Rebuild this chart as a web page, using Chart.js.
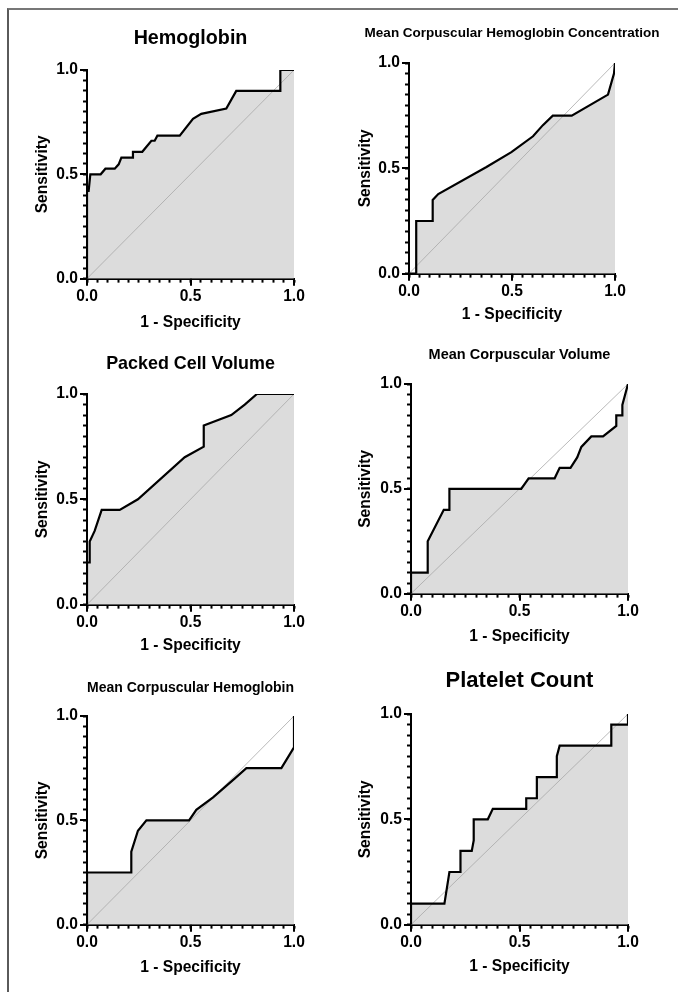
<!DOCTYPE html>
<html>
<head>
<meta charset="utf-8">
<script src="https://cdn.jsdelivr.net/npm/chart.js@4.4.0/dist/chart.umd.min.js"></script>
<style>
html,body{margin:0;padding:0;background:#fff;}
body{width:678px;height:992px;position:relative;overflow:hidden;}
#frame{position:absolute;left:7px;top:8px;width:700px;height:1000px;border-left:2px solid #5a5a5a;border-top:2px solid #777;}
canvas{position:absolute;}
</style>
</head>
<body>
<div id="frame"></div>
<script>
// ---- data (1 - specificity, sensitivity) ----
const hgbX = [0, 0, 0.008, 0.016, 0.066, 0.089, 0.134, 0.153, 0.166, 0.222, 0.222, 0.267, 0.311, 0.327, 0.34, 0.448, 0.512, 0.552, 0.673, 0.721, 0.934, 0.934, 1];
const hgbY = [0, 0.42, 0.42, 0.5, 0.5, 0.527, 0.527, 0.548, 0.58, 0.58, 0.608, 0.608, 0.661, 0.661, 0.685, 0.685, 0.766, 0.79, 0.815, 0.9, 0.9, 1, 1];

const mchcX = [0, 0.035, 0.035, 0.115, 0.115, 0.142, 0.376, 0.497, 0.602, 0.65, 0.698, 0.79, 0.966, 0.995, 1];
const mchcY = [0, 0, 0.25, 0.25, 0.35, 0.378, 0.506, 0.577, 0.652, 0.705, 0.75, 0.75, 0.85, 0.95, 1];

const pcvX = [0, 0, 0.013, 0.013, 0.037, 0.071, 0.158, 0.246, 0.472, 0.564, 0.564, 0.697, 0.762, 0.821, 1];
const pcvY = [0, 0.2, 0.2, 0.3, 0.35, 0.45, 0.45, 0.5, 0.7, 0.75, 0.85, 0.9, 0.95, 1, 1];

const mcvX = [0, 0, 0.077, 0.077, 0.151, 0.177, 0.177, 0.508, 0.542, 0.662, 0.685, 0.735, 0.766, 0.785, 0.831, 0.885, 0.946, 0.946, 0.974, 0.974, 1];
const mcvY = [0, 0.1, 0.1, 0.25, 0.4, 0.4, 0.5, 0.5, 0.55, 0.55, 0.6, 0.6, 0.65, 0.7, 0.75, 0.75, 0.8, 0.85, 0.85, 0.9, 1];

const mchX = [0, 0, 0.214, 0.214, 0.246, 0.287, 0.493, 0.528, 0.609, 0.713, 0.77, 0.939, 1, 1];
const mchY = [0, 0.25, 0.25, 0.35, 0.45, 0.5, 0.5, 0.55, 0.61, 0.7, 0.75, 0.75, 0.85, 1];

const pltX = [0, 0, 0.154, 0.177, 0.228, 0.228, 0.28, 0.289, 0.289, 0.354, 0.377, 0.531, 0.531, 0.58, 0.58, 0.672, 0.672, 0.685, 0.923, 0.923, 1, 1];
const pltY = [0, 0.1, 0.1, 0.25, 0.25, 0.35, 0.35, 0.4, 0.5, 0.5, 0.55, 0.55, 0.6, 0.6, 0.7, 0.7, 0.8, 0.85, 0.85, 0.95, 0.95, 1];

const refX = [0, 1];
const refY = [0, 1];

const majorTicks = [0, 0.5, 1];
const xAxisTitle = '1 - Specificity';
const yAxisTitle = 'Sensitivity';

const titles = ['Hemoglobin', 'Mean Corpuscular Hemoglobin Concentration', 'Packed Cell Volume',
                'Mean Corpuscular Volume', 'Mean Corpuscular Hemoglobin', 'Platelet Count'];

// ---- layout ----
const FONT = '"Liberation Sans", Arial, Helvetica, sans-serif';
const panels = [
  {title: titles[0], ts: 19.7, tcy: 38.5, xs: hgbX, ys: hgbY, L: 87, R: 294, T: 70, B: 277, ycx: 42, xcy: 321},
  {title: titles[1], ts: 13.5, tcy: 33.5, xs: mchcX, ys: mchcY, L: 409, R: 615, T: 63, B: 272, ycx: 365, xcy: 313},
  {title: titles[2], ts: 17.9, tcy: 363.5, xs: pcvX, ys: pcvY, L: 87, R: 294, T: 394, B: 603, ycx: 42, xcy: 644},
  {title: titles[3], ts: 14.5, tcy: 355, xs: mcvX, ys: mcvY, L: 411, R: 628, T: 384, B: 592, ycx: 365, xcy: 635},
  {title: titles[4], ts: 14, tcy: 688, xs: mchX, ys: mchY, L: 87, R: 294, T: 716, B: 923, ycx: 42, xcy: 966},
  {title: titles[5], ts: 22, tcy: 681, xs: pltX, ys: pltY, L: 411, R: 628, T: 714, B: 923, ycx: 365, xcy: 965}
];

const majorTickPlugin = {
  id: 'majorTicks',
  afterDraw(chart) {
    const {ctx} = chart;
    const x = chart.scales.x, y = chart.scales.y;
    ctx.save();
    ctx.strokeStyle = '#000';
    ctx.lineWidth = 2;
    majorTicks.forEach(v => {
      const px = Math.round(x.getPixelForValue(v));
      ctx.beginPath(); ctx.moveTo(px, x.top); ctx.lineTo(px, x.top + 7); ctx.stroke();
      const py = Math.round(y.getPixelForValue(v));
      ctx.beginPath(); ctx.moveTo(y.right, py); ctx.lineTo(y.right - 7, py); ctx.stroke();
    });
    ctx.restore();
  }
};

const tickLabel = v => {
  const r = Math.round(v * 20);
  return r % 10 === 0 ? (r / 20).toFixed(1) : '';
};

const AX_FS = 15.6, AX_LH = AX_FS * 1.2;

panels.forEach(p => {
  const tLH = p.ts * 1.2;
  const cTop = Math.round(p.tcy - tLH / 2);
  const titlePadB = p.T - cTop - tLH;
  const cLeft = Math.round(p.ycx - AX_LH / 2);
  const yW = p.L - cLeft;
  const xH = p.xcy - p.B + AX_LH / 2;
  const cw = yW + (p.R - p.L) + yW; // an empty right axis of the same width keeps the title centred on the plot
  const ch = Math.ceil(p.B + xH - cTop) + 1;

  const cv = document.createElement('canvas');
  cv.width = cw; cv.height = ch;
  cv.style.width = cw + 'px'; cv.style.height = ch + 'px';
  cv.style.left = cLeft + 'px'; cv.style.top = cTop + 'px';
  document.body.appendChild(cv);

  const tickFont = {family: FONT, size: AX_FS, weight: 'bold'};
  const chart = new Chart(cv, {
    type: 'scatter',
    data: {
      datasets: [
        {
          data: p.xs.map((x, i) => ({x: x, y: p.ys[i]})),
          xAxisID: 'x', yAxisID: 'y',
          showLine: true, pointRadius: 0, borderColor: '#000', borderWidth: 2.2,
          fill: 'origin', backgroundColor: '#dcdcdc', tension: 0
        },
        {
          data: refX.map((x, i) => ({x: x, y: refY[i]})),
          xAxisID: 'x', yAxisID: 'y',
          showLine: true, pointRadius: 0, borderColor: '#a8a8a8', borderWidth: 0.8,
          fill: false, tension: 0
        }
      ]
    },
    options: {
      responsive: false, animation: false, devicePixelRatio: 1,
      layout: {padding: 0},
      plugins: {
        legend: {display: false}, tooltip: {enabled: false},
        filler: {drawTime: 'beforeDatasetsDraw'},
        title: {
          display: true, text: p.title, color: '#000', fullSize: true,
          font: {family: FONT, size: p.ts, weight: 'bold', lineHeight: 1.2},
          padding: {top: 0, bottom: titlePadB}
        }
      },
      scales: {
        x: {
          type: 'linear', position: 'bottom', min: 0, max: 1, z: 1,
          afterFit: s => { s.height = xH; },
          ticks: {count: 21, autoSkip: false, maxRotation: 0, minRotation: 0, padding: 5,
                  color: '#000', font: tickFont, callback: tickLabel},
          grid: {drawOnChartArea: false, drawTicks: true, tickLength: 4, tickWidth: 2, tickColor: '#000'},
          border: {display: true, color: '#000', width: 2},
          title: {display: true, text: xAxisTitle, color: '#000',
                  font: {family: FONT, size: AX_FS, weight: 'bold', lineHeight: 1.2}, padding: {top: 0, bottom: 0}}
        },
        y: {
          type: 'linear', position: 'left', min: 0, max: 1, z: 1,
          afterFit: s => { s.width = yW; },
          ticks: {count: 21, autoSkip: false, padding: 5, color: '#000', font: tickFont, callback: tickLabel},
          grid: {drawOnChartArea: false, drawTicks: true, tickLength: 4, tickWidth: 2, tickColor: '#000'},
          border: {display: true, color: '#000', width: 2},
          title: {display: true, text: yAxisTitle, color: '#000',
                  font: {family: FONT, size: AX_FS, weight: 'bold', lineHeight: 1.2}, padding: {top: 0, bottom: 0}}
        },
        yPad: {
          type: 'linear', position: 'right', min: 0, max: 1, display: true,
          afterFit: s => { s.width = yW; },
          ticks: {display: false},
          grid: {display: false, drawOnChartArea: false, drawTicks: false},
          border: {display: false},
          title: {display: false}
        }
      }
    },
    plugins: [majorTickPlugin]
  });

  const ca = chart.chartArea;
  cv.style.left = Math.round(p.L - ca.left) + 'px';
  cv.style.top = Math.round(p.T - ca.top) + 'px';
});
</script>
</body>
</html>
